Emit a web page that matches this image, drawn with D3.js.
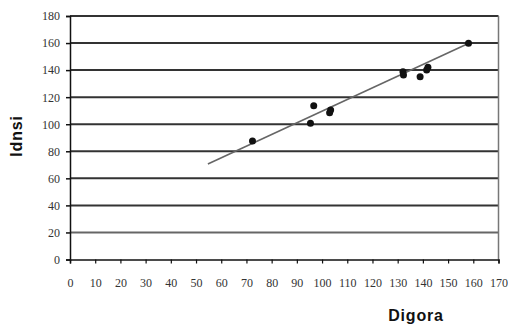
<!DOCTYPE html>
<html>
<head>
<meta charset="utf-8">
<script src="https://cdn.jsdelivr.net/npm/d3@7"></script>
<style>
    body { margin: 0; background: #fff; }
    svg { display: block; }
    .axis-title { font-family: 'Liberation Sans', Arial, sans-serif; font-size: 16px; font-weight: bold; fill: #111; letter-spacing: 0.8px; }
</style>
</head>
<body>
<div class="chart"></div>
<script>
// Digora vs Idnsi measurements
const digora = [72.4, 95.4, 96.7, 103.0, 103.4, 132.1, 132.3, 138.9, 142.0, 141.5, 158.1];
const idnsi = [87.6, 100.7, 113.7, 108.5, 110.5, 138.8, 136.4, 135.1, 142.1, 140.0, 159.8];

// linear trend line end points
const trendX = [54.7, 158.0];
const trendY = [70.6, 159.7];

const xTicks = d3.range(0, 171, 10);
const yTicks = d3.range(0, 181, 20);

const svgWidth = 508;
const svgHeight = 326;

const xScale = d3.scaleLinear().domain([0, 170]).range([70, 498.5]);
const yScale = d3.scaleLinear().domain([0, 180]).range([259.5, 16]);

const svg = d3
    .select('.chart')
    .append('svg')
    .attr('width', svgWidth)
    .attr('height', svgHeight);

// horizontal gridlines
svg.append('g')
    .selectAll('line')
    .data(yTicks.filter((d) => d > 0))
    .join('line')
    .attr('x1', xScale(0))
    .attr('x2', xScale(170))
    .attr('y1', (d) => yScale(d))
    .attr('y2', (d) => yScale(d))
    .attr('stroke', (d) => (d === 20 ? '#666' : '#333'))
    .attr('stroke-width', 2);

// right border
svg.append('line')
    .attr('x1', xScale(170))
    .attr('x2', xScale(170))
    .attr('y1', yScale(180))
    .attr('y2', yScale(0))
    .attr('stroke', '#777')
    .attr('stroke-width', 1.5);

// y axis
const yAxis = svg.append('g')
    .attr('transform', `translate(${xScale(0)},0)`)
    .call(d3.axisLeft(yScale).tickValues(yTicks).tickSize(4).tickFormat(d3.format('d')))
    .attr('font-family', 'Liberation Serif, serif')
    .attr('font-size', 12);
yAxis.select('.domain').attr('stroke', '#111').attr('stroke-width', 1.5);
yAxis.selectAll('.tick line').attr('stroke', '#111').attr('stroke-width', 1.5);
yAxis.selectAll('.tick text').attr('x', -10).attr('fill', '#333');

// x axis
const xAxis = svg.append('g')
    .attr('transform', `translate(0,${yScale(0)})`)
    .call(d3.axisBottom(xScale).tickValues(xTicks).tickSize(4).tickFormat(d3.format('d')))
    .attr('font-family', 'Liberation Serif, serif')
    .attr('font-size', 12);
xAxis.select('.domain').attr('stroke', '#111').attr('stroke-width', 1.5);
xAxis.selectAll('.tick line').attr('stroke', '#111').attr('stroke-width', 1.2);
xAxis.selectAll('.tick text').attr('y', 19).attr('fill', '#333');

// trend line
svg.append('line')
    .attr('x1', xScale(trendX[0]))
    .attr('y1', yScale(trendY[0]))
    .attr('x2', xScale(trendX[1]))
    .attr('y2', yScale(trendY[1]))
    .attr('stroke', '#666')
    .attr('stroke-width', 1.6);

// points
svg.append('g')
    .selectAll('circle')
    .data(digora.map((d, i) => ({ x: d, y: idnsi[i] })))
    .join('circle')
    .attr('cx', (d) => xScale(d.x))
    .attr('cy', (d) => yScale(d.y))
    .attr('r', 3.5)
    .attr('fill', '#111');

// axis titles
svg.append('text')
    .attr('class', 'axis-title')
    .attr('text-anchor', 'middle')
    .attr('x', 416)
    .attr('y', 321)
    .text('Digora');

svg.append('text')
    .attr('class', 'axis-title')
    .attr('text-anchor', 'middle')
    .attr('transform', 'translate(22,136) rotate(-90)')
    .text('Idnsi');
</script>
</body>
</html>
